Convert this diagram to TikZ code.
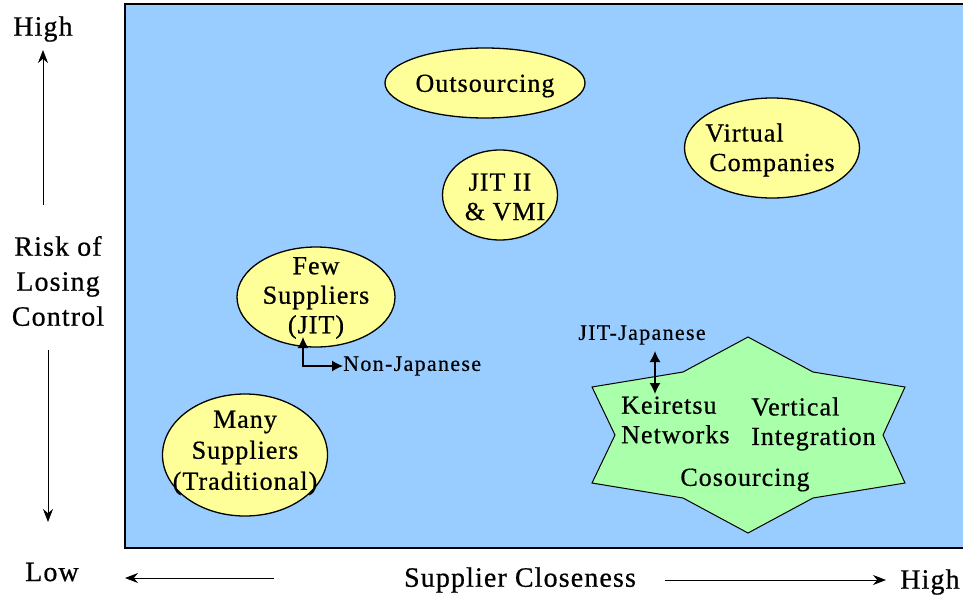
\documentclass[tikz,border=0pt]{standalone}
\usepackage{fontspec}
\setmainfont{Liberation Serif}
\newfontfamily\tnr[LetterSpace=4,FakeBold=0.6]{Liberation Serif}
\newfontfamily\tnrs[LetterSpace=6,FakeBold=0.4]{Liberation Serif}
\usetikzlibrary{arrows.meta,shapes.geometric}
\definecolor{bgblue}{HTML}{99CCFF}
\definecolor{ellyellow}{HTML}{FFFF99}
\definecolor{stargreen}{HTML}{AAFFAA}
\begin{document}
\begin{tikzpicture}[x=1pt,y=-1pt,
  oval/.style={ellipse, draw=black, line width=1.3pt, fill=ellyellow, inner sep=0pt},
  lab/.style={align=center, font=\tnr\fontsize{26}{29.5}\selectfont, inner sep=0pt},
  axis/.style={align=center, font=\tnr\fontsize{28}{35}\selectfont, inner sep=0pt},
  small/.style={font=\tnrs\fontsize{22}{22}\selectfont, inner sep=0pt},
  axarrow/.style={line width=0.9pt, -{Stealth[length=13pt,width=10pt]}},
  dbl/.style={line width=1.3pt, {Latex[length=11pt,width=11pt]}-{Latex[length=11pt,width=11pt]}}
]
\useasboundingbox (0,0) rectangle (963,600);
\draw[fill=bgblue, line width=1.2pt] (125,4) rectangle (975,548);

% ellipses
\node[oval, minimum width=200pt, minimum height=70pt] (outs) at (485,83) {};
\node[lab] at ([yshift=-3pt]outs.center) {Outsourcing};
\node[oval, minimum width=115pt, minimum height=90pt] (jit2) at (500,195) {};
\node[lab] at ([yshift=-2pt]jit2.center) {JIT II\\\hspace*{10pt}\& VMI};
\node[oval, minimum width=175pt, minimum height=100pt] (virt) at (772,148) {};
\node[lab, align=left] at ([yshift=-2pt]virt.center) {\hspace*{-4pt}Virtual\\Companies};
\node[oval, minimum width=158pt, minimum height=100pt] (few) at (316,297) {};
\node[lab] at ([yshift=-1pt]few.center) {Few\\Suppliers\\(JIT)};
\node[oval, minimum width=165pt, minimum height=122pt] (many) at (245,455) {};
\node[lab, font=\tnr\fontsize{26}{31}\selectfont] at ([yshift=2pt]many.center) {Many\\Suppliers\\(Traditional)};

% star
\draw[fill=stargreen, line width=1pt]
  (748,337) -- (813,372) -- (905,387) -- (883,435) -- (905,483) -- (813,498)
  -- (748,533) -- (683,498) -- (592,483) -- (615,435) -- (592,387) -- (683,372) -- cycle;
\node[lab, align=left, anchor=west] (keir) at (621,420) {Keiretsu\\Networks};
\node[lab, align=left, anchor=west] (vert) at (751,424) {Vertical\\Integration};
\node[lab] (cos) at (745,480) {Cosourcing};

% JIT-Japanese
\node[small] (jj) at (642,335) {JIT-Japanese};
\coordinate (jjtop) at (655,351);
\coordinate (jjbot) at (655,394);
\draw[dbl] (jjtop) -- (jjbot);

% Non-Japanese
\node[small, anchor=west] (nj) at (343,366) {Non-Japanese};
\coordinate (njtip) at (303,337);
\draw[dbl] (njtip) |- (nj.west);

% axes
\node[axis] (high1) at (43,29) {High};
\node[axis] (risk) at (58,281) {Risk of\\Losing\\Control};
\node[axis] (low) at (52,572) {Low};
\coordinate (uparrow) at (43,50);
\coordinate (downarrow) at (48,522);
\draw[axarrow] (43,205) -- (uparrow);
\draw[axarrow] (48,350) -- (downarrow);

\node[axis] (sc) at (520,580) {Supplier Closeness};
\node[axis] (high2) at (930,582) {High};
\coordinate (leftarrow) at (125,578);
\coordinate (rightarrow) at (886,580);
\draw[axarrow] (274,578) -- (leftarrow);
\draw[axarrow] (665,580) -- (rightarrow);
\end{tikzpicture}
\end{document}
